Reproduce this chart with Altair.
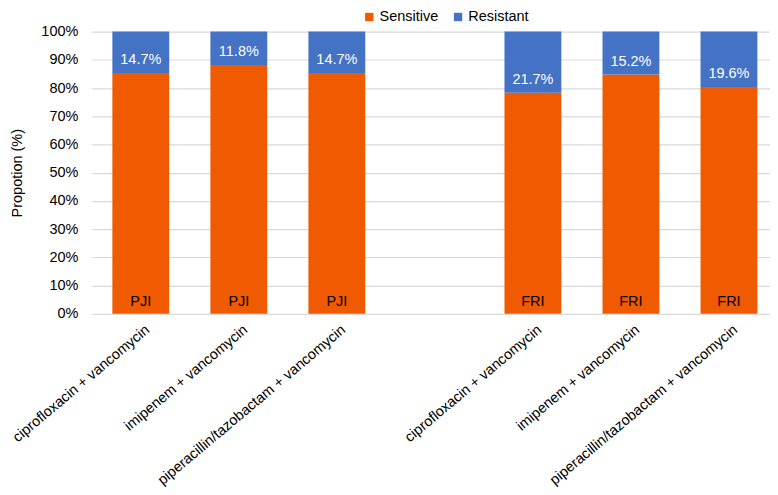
import altair as alt
import pandas as pd

infections = ["PJI", "PJI", "PJI", "", "FRI", "FRI", "FRI"]
regimens = [
    "ciprofloxacin + vancomycin",
    "imipenem + vancomycin",
    "piperacillin/tazobactam + vancomycin",
    "",
    "ciprofloxacin + vancomycin",
    "imipenem + vancomycin",
    "piperacillin/tazobactam + vancomycin",
]
resistant = [14.7, 11.8, 14.7, None, 21.7, 15.2, 19.6]
series = ["Sensitive", "Resistant"]
colors = ["#F05A00", "#4472C4"]
y_ticks = [0, 10, 20, 30, 40, 50, 60, 70, 80, 90, 100]

keys = [f"{inf}{i}|{reg}" for i, (inf, reg) in enumerate(zip(infections, regimens))]

rows = []
for k, inf, r in zip(keys, infections, resistant):
    if r is None:
        continue
    s = round(100 - r, 1)
    rows.append({"key": k, "inf": inf, "series": "Sensitive", "value": s, "ord": 0, "sens": s, "res": r, "zero": 0})
    rows.append({"key": k, "inf": inf, "series": "Resistant", "value": r, "ord": 1, "sens": s, "res": r, "zero": 0})
df = pd.DataFrame(rows)
lab = df[df.series == "Resistant"].copy()
lab["reslabel"] = lab["res"].map(lambda v: f"{v:.1f}%")

FONT = "Liberation Sans"
FS = 14.5
W, H = 670, 283

x = alt.X(
    "key:N",
    sort=keys,
    scale=alt.Scale(domain=keys, paddingInner=0.42, paddingOuter=0.21, range=[0, 688]),
    axis=alt.Axis(
        title=None,
        labelExpr="split(datum.label, '|')[1]",
        labelAngle=-40,
        labelAlign="right",
        labelBaseline="middle",
        labelFont=FONT,
        labelFontSize=FS,
        labelColor="#000000",
        labelPadding=14,
        labelOffset=7,
        ticks=False,
        domain=False,
        labelLimit=400,
        labelOverlap=False,
    ),
)

yscale = alt.Scale(domain=[0, 100])
yaxis = alt.Axis(
    title="Propotion (%)",
    titleFont=FONT,
    titleFontSize=FS,
    titleFontWeight="normal",
    titleColor="#000000",
    titlePadding=16,
    values=y_ticks,
    labelExpr="datum.value + '%'",
    labelFont=FONT,
    labelFontSize=FS,
    labelColor="#000000",
    labelPadding=14,
    labelOverlap=False,
    ticks=False,
    domain=False,
    grid=True,
    gridColor="#D9D9D9",
    gridWidth=1.2,
)

bars = alt.Chart(df).mark_bar().encode(
    x=x,
    y=alt.Y("value:Q", stack="zero", scale=yscale, axis=yaxis),
    color=alt.Color(
        "series:N",
        scale=alt.Scale(domain=series, range=colors),
        legend=alt.Legend(
            title=None,
            orient="none",
            direction="horizontal",
            legendX=271,
            legendY=-22,
            symbolType="square",
            symbolSize=70,
            symbolStrokeWidth=0,
            labelFont=FONT,
            labelFontSize=FS,
            labelColor="#000000",
            columnPadding=12,
            labelOffset=3,
        ),
    ),
    order=alt.Order("ord:Q"),
)

res_text = alt.Chart(lab).mark_text(
    font=FONT, fontSize=FS, color="white", baseline="middle", dy=-13
).encode(x=x, y=alt.Y("sens:Q", scale=yscale, axis=yaxis), text="reslabel:N")

inf_text = alt.Chart(lab).mark_text(
    font=FONT, fontSize=FS, color="#000000", baseline="middle", dy=-12
).encode(x=x, y=alt.Y("zero:Q", scale=yscale, axis=yaxis), text="inf:N")

chart = (
    alt.layer(bars, res_text, inf_text)
    .properties(
        width=W,
        height=H,
        background="white",
        autosize=alt.AutoSizeParams(type="none"),
        padding={"left": 84, "top": 23, "right": 10, "bottom": 180},
    )
    .configure_view(stroke=None)
)

chart.save("out.html", embed_options={"renderer": "svg", "actions": False})
